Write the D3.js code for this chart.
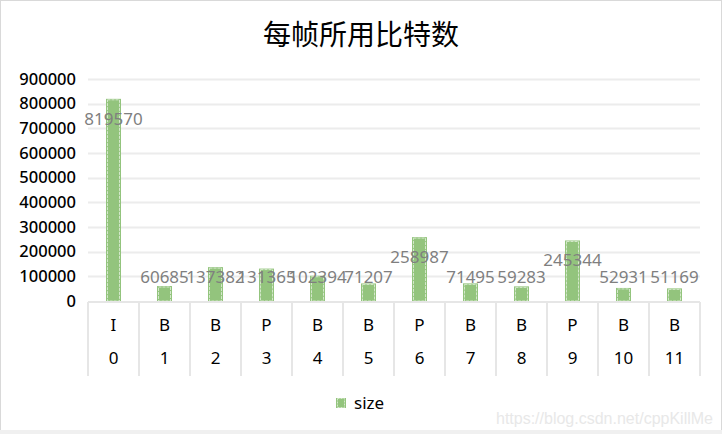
<!DOCTYPE html>
<html>
<head>
<meta charset="utf-8">
<script src="https://cdn.jsdelivr.net/npm/d3@7"></script>
<style>
  body { margin: 0; background: #fff; }
  svg { display: block; }
</style>
</head>
<body>
<div id="chart"></div>
<script>
// frame data
var frameIndex = ["0", "1", "2", "3", "4", "5", "6", "7", "8", "9", "10", "11"];
var frameType = ["I", "B", "B", "P", "B", "B", "P", "B", "B", "P", "B", "B"];
var sizeValues = [819570, 60685, 137382, 131365, 102394, 71207, 258987, 71495, 59283, 245344, 52931, 51169];
var yTicks = [0, 100000, 200000, 300000, 400000, 500000, 600000, 700000, 800000, 900000];
var titleText = "每帧所用比特数";
var seriesName = "size";

var W = 722, H = 434;
var padding = {l: 88, r: 22, t: 79, b: 133};
var barColor = "#93c47d";
var numFont = "'Noto Sans', 'DejaVu Sans', sans-serif";

var svg = d3.select('#chart').append('svg')
    .attr('width', W)
    .attr('height', H);

// chart frame
svg.append('rect')
    .attr('x', 0.5).attr('y', 0.5)
    .attr('width', W - 1).attr('height', H - 4)
    .attr('fill', '#fff')
    .attr('stroke', '#d9d9d9');
svg.append('rect')
    .attr('x', 0).attr('y', H - 4)
    .attr('width', W).attr('height', 4)
    .attr('fill', '#f0f0f0');

var xScale = d3.scaleBand()
    .domain(frameIndex)
    .range([padding.l, W - padding.r])
    .paddingInner(0)
    .paddingOuter(0);

var yScale = d3.scaleLinear()
    .domain([0, 900000])
    .range([H - padding.b - 0, padding.t]);

// gridlines
svg.append('g').attr('class', 'grid')
    .selectAll('line')
    .data(yTicks.slice(1)).enter()
    .append('line')
        .attr('x1', padding.l)
        .attr('x2', W - padding.r)
        .attr('y1', d => Math.round(yScale(d)) + 0.5)
        .attr('y2', d => Math.round(yScale(d)) + 0.5)
        .attr('stroke', '#ececec')
        .attr('stroke-width', 2);

// y axis labels
var yAxis = d3.axisLeft(yScale)
    .tickValues(yTicks)
    .tickSize(0)
    .tickPadding(12)
    .tickFormat(d3.format('d'));
svg.append('g').attr('class', 'axis y')
    .attr('transform', 'translate(' + padding.l + ',0)')
    .call(yAxis)
    .call(g => g.select('.domain').remove())
    .call(g => g.selectAll('text')
        .attr('font-family', numFont)
        .attr('font-size', 16.5)
        .attr('font-weight', 500)
        .attr('fill', '#000'));

// bars
var barW = 15;
var bars = svg.append('g').attr('class', 'bars');
bars.selectAll('rect')
    .data(sizeValues).enter()
    .append('rect')
        .attr('x', (d, i) => xScale(frameIndex[i]) + xScale.bandwidth() / 2 - barW / 2)
        .attr('y', d => yScale(d))
        .attr('width', barW)
        .attr('height', d => yScale(0) - yScale(d))
        .attr('fill', barColor);
bars.selectAll('rect.edge')
    .data(sizeValues).enter()
    .append('rect')
        .attr('class', 'edge')
        .attr('x', (d, i) => xScale(frameIndex[i]) + xScale.bandwidth() / 2 - barW / 2 + 1.5)
        .attr('y', d => yScale(d) + 1)
        .attr('width', barW - 3)
        .attr('height', d => Math.max(0, yScale(0) - yScale(d) - 1))
        .attr('fill', 'none')
        .attr('stroke', '#d4e8cb')
        .attr('stroke-width', 1)
        .attr('stroke-dasharray', '3,1');

// x axis baseline & category dividers
var axisY = yScale(0) + 1;
svg.append('line')
    .attr('x1', padding.l).attr('x2', W - padding.r)
    .attr('y1', axisY).attr('y2', axisY)
    .attr('stroke', '#e6e6e6').attr('stroke-width', 2);
var dividers = frameIndex.map(d => xScale(d)).concat([W - padding.r]);
svg.append('g').selectAll('line')
    .data(dividers).enter()
    .append('line')
        .attr('x1', d => d).attr('x2', d => d)
        .attr('y1', axisY).attr('y2', axisY + 74)
        .attr('stroke', '#e6e6e6').attr('stroke-width', 2);

// category labels (two rows)
var catG = svg.append('g').attr('font-family', numFont).attr('font-size', 17).attr('fill', '#000').attr('text-anchor', 'middle');
catG.selectAll('text.type')
    .data(frameType).enter()
    .append('text')
        .attr('class', 'type')
        .attr('x', (d, i) => xScale(frameIndex[i]) + xScale.bandwidth() / 2)
        .attr('y', axisY + 29)
        .text(d => d);
catG.selectAll('text.idx')
    .data(frameIndex).enter()
    .append('text')
        .attr('class', 'idx')
        .attr('x', d => xScale(d) + xScale.bandwidth() / 2)
        .attr('y', axisY + 62)
        .text(d => d);

// data labels
svg.append('g').selectAll('text')
    .data(sizeValues).enter()
    .append('text')
        .attr('x', (d, i) => xScale(frameIndex[i]) + xScale.bandwidth() / 2)
        .attr('y', d => Math.min(yScale(d) + 26, 283))
        .attr('text-anchor', 'middle')
        .attr('font-family', numFont)
        .attr('font-size', 17)
        .attr('fill', '#7f7f7f')
        .text(d => d);

// title
svg.append('text')
    .attr('x', 361).attr('y', 45)
    .attr('text-anchor', 'middle')
    .attr('font-family', "'Noto Sans CJK SC', sans-serif")
    .attr('font-size', 28)
    .attr('fill', '#000')
    .text(titleText);

// legend
var lg = svg.append('g').attr('transform', 'translate(336,398)');
lg.append('rect').attr('width', 10).attr('height', 10).attr('fill', barColor);
lg.append('rect').attr('x', 1.5).attr('y', 0.5).attr('width', 7).attr('height', 9)
    .attr('fill', 'none').attr('stroke', '#d4e8cb').attr('stroke-dasharray', '2,1');
lg.append('text')
    .attr('x', 18).attr('y', 11)
    .attr('font-family', numFont)
    .attr('font-size', 17)
    .attr('fill', '#000')
    .text(seriesName);

// watermark
svg.append('text')
    .attr('x', 713).attr('y', 424)
    .attr('text-anchor', 'end')
    .attr('font-family', "'Liberation Sans', Arial, sans-serif")
    .attr('font-size', 16)
    .attr('fill', '#e8e8e8')
    .text('https://blog.csdn.net/cppKillMe');
</script>
</body>
</html>
